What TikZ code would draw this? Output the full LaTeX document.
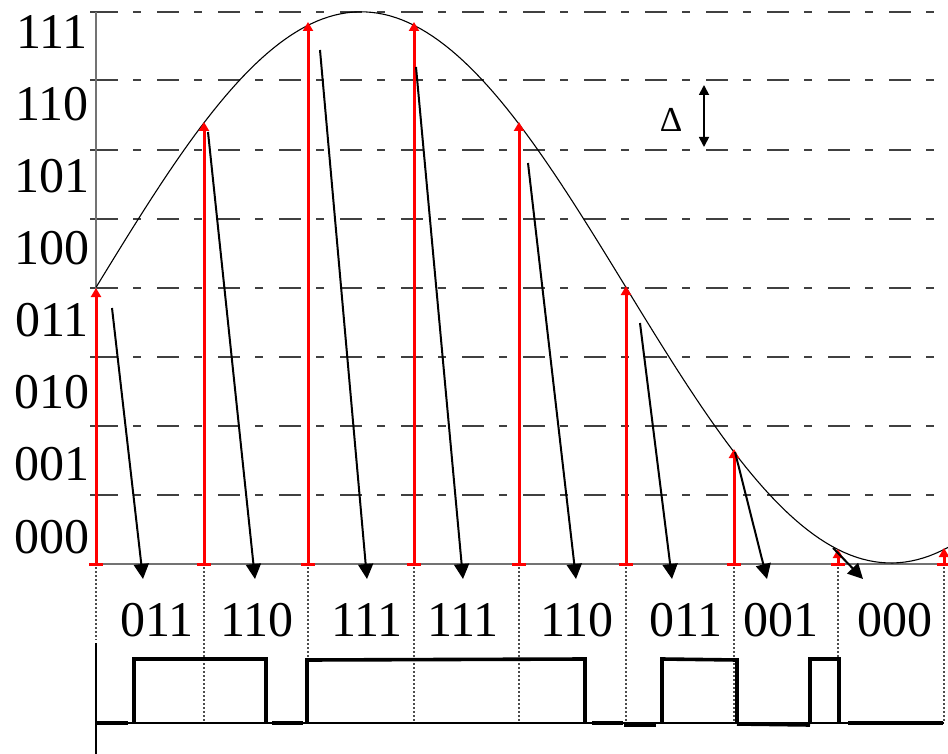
\documentclass[tikz,border=0pt]{standalone}
\usepackage{fontspec}
\setmainfont{Liberation Serif}
\usetikzlibrary{arrows.meta}
\begin{document}
\begin{tikzpicture}[x=1pt,y=-1pt,
  gridline/.style={draw=black!75, line width=1.2pt, dash pattern=on 22pt off 15pt on 8pt off 16pt},
  tickline/.style={draw=black!75, line width=1.2pt},
  axisline/.style={draw=black!55, line width=1.6pt},
  sample/.style={draw=red, line width=3pt, -{Triangle[width=10pt,length=9pt]}},
  redtick/.style={draw=red, line width=3pt},
  codearrow/.style={draw=black, line width=2pt, -{Triangle[width=15pt,length=15pt]}},
  guide/.style={draw=black!70, line width=1.3pt, dash pattern=on 2pt off 2pt},
  wave/.style={draw=black, line width=3.6pt, line join=miter},
  thinwave/.style={draw=black, line width=2pt},
  lbl/.style={font=\fontsize{50}{50}\selectfont, inner sep=0pt},
  dlbl/.style={font=\fontsize{35}{35}\selectfont, inner sep=0pt},
]
\useasboundingbox (0,0) rectangle (948,754);

% grid lines
\foreach \yy in {12,80,150,219,288,357,426,495}{
  \draw[tickline] (90,\yy) -- (96,\yy);
  \draw[gridline] (96,\yy) -- (948,\yy);
}
% axes
\draw[axisline] (96,12) -- (96,564);
\draw[axisline] (90,564) -- (948,564);

% level labels
\node[lbl] (l111) at (52,32) {111};
\node[lbl] (l110) at (52,104) {110};
\node[lbl] (l101) at (52,176) {101};
\node[lbl] (l100) at (52,248) {100};
\node[lbl] (l011) at (52,320) {011};
\node[lbl] (l010) at (52,392) {010};
\node[lbl] (l001) at (52,464) {001};
\node[lbl] (l000) at (52,537) {000};

% analog signal
\draw[line width=1.1pt] plot[domain=96:948, samples=140] (\x, {563-275.6-275.6*sin((\x-96)*0.3396226)});

% sample points
\foreach \n/\xx/\yy in {1/96/288, 2/204/122, 3/308/22, 4/414/22, 5/519/122, 6/626/286, 7/734/449, 8/838/549, 9/944/548}{
  \coordinate (b\n) at (\xx,564);
  \coordinate (t\n) at (\xx,\yy);
  \coordinate (g\n) at (\xx,567);
  \coordinate (h\n) at (\xx,722);
}
% dotted guides
\draw[guide] (g1) -- (96,640);
\foreach \n in {2,...,9}{ \draw[guide] (g\n) -- (h\n); }
% red samples
\foreach \n in {1,...,9}{
  \draw[redtick] ([xshift=-7pt]b\n) -- ([xshift=7pt]b\n);
  \draw[sample] (b\n) -- (t\n);
}

% coding arrows
\coordinate (s1) at (112,308); \coordinate (e1) at (143,579);
\coordinate (s2) at (208,132); \coordinate (e2) at (255,579);
\coordinate (s3) at (320,50);  \coordinate (e3) at (367,579);
\coordinate (s4) at (416,67);  \coordinate (e4) at (463,579);
\coordinate (s5) at (528,163); \coordinate (e5) at (576,579);
\coordinate (s6) at (640,323); \coordinate (e6) at (672,579);
\coordinate (s7) at (735,452); \coordinate (e7) at (767,579);
\coordinate (s8) at (833,548); \coordinate (e8) at (863,579);
\foreach \n in {1,...,8}{ \draw[codearrow] (s\n) -- (e\n); }

% Delta
\node[dlbl] (delta) at (671,120) {Δ};
\coordinate (da) at (704,85);
\coordinate (db) at (704,147);
\draw[line width=1.8pt, {Triangle[width=10pt,length=10pt]}-{Triangle[width=10pt,length=10pt]}] (da) -- (db);

% code words
\node[lbl] (c1) at (157,620) {011};
\node[lbl] (c2) at (257,620) {110};
\node[lbl] (c3) at (367,620) {111};
\node[lbl] (c4) at (463,620) {111};
\node[lbl] (c5) at (577,620) {110};
\node[lbl] (c6) at (686,620) {011};
\node[lbl] (c7) at (781,620) {001};
\node[lbl] (c8) at (895,620) {000};

% bottom axis
\draw[line width=2pt] (96,643) -- (96,754);

% digital waveform
\draw[thinwave] (128,723) -- (944,723);
\draw[wave] (97,723) -- (128,723);
\draw[wave] (134,723) -- (134,659) -- (266,659) -- (266,723);
\draw[wave] (272,723) -- (303,723);
\draw[wave] (307,723) -- (307,660) -- (585,659) -- (585,723);
\draw[wave] (592,723) -- (623,723);
\draw[wave] (624,725) -- (656,725);
\draw[wave] (662,723) -- (662,659) -- (737,660) -- (737,723);
\draw[wave] (737,724) -- (810,725);
\draw[wave] (810,723) -- (810,659) -- (839,659) -- (839,723);
\draw[wave] (848,723) -- (943,723);
\end{tikzpicture}
\end{document}
